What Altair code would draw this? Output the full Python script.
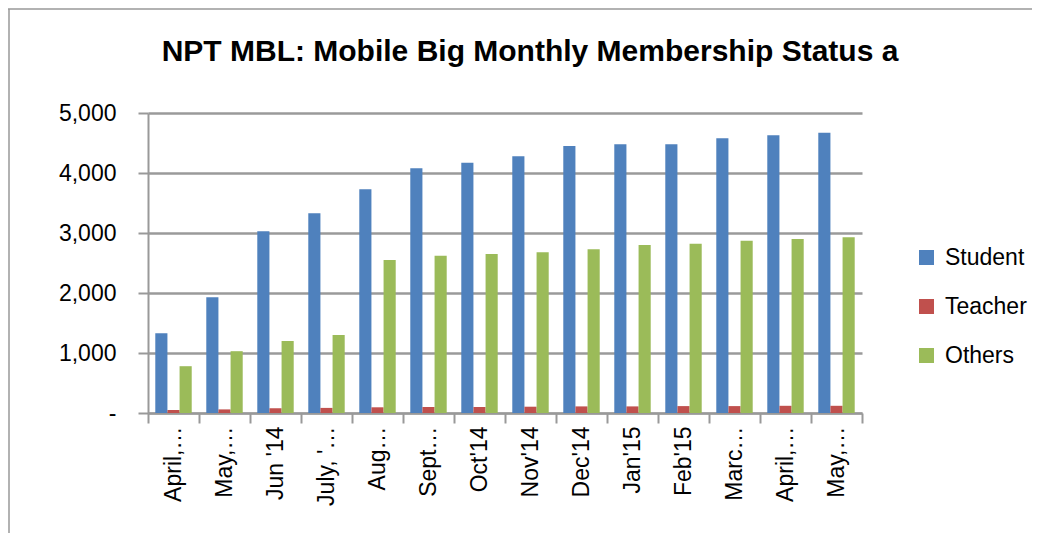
import json
import altair as alt
import pandas as pd

categories = ["April, '14", "May, '14", "Jun '14", "July, '14", "Aug, '14", "Sept, '14",
              "Oct'14", "Nov'14", "Dec'14", "Jan'15", "Feb'15", "March'15", "April, '15", "May, '15"]
display_labels = ["April,…", "May,…", "Jun '14", "July, '…", "Aug…", "Sept…",
                  "Oct'14", "Nov'14", "Dec'14", "Jan'15", "Feb'15", "Marc…", "April,…", "May,…"]
series = ["Student", "Teacher", "Others"]
student = [1330, 1930, 3030, 3330, 3730, 4080, 4170, 4280, 4450, 4480, 4480, 4580, 4630, 4670]
teacher = [50, 60, 80, 85, 95, 100, 100, 105, 110, 110, 115, 115, 120, 120]
others = [780, 1030, 1200, 1300, 2550, 2620, 2650, 2680, 2730, 2800, 2820, 2870, 2900, 2930]
colors = ["#4F81BD", "#C0504D", "#9BBB59"]
y_ticks = [0, 1000, 2000, 3000, 4000, 5000]

rows = []
for i, c in enumerate(categories):
    for s, vals in zip(series, [student, teacher, others]):
        rows.append({"Month": c, "Series": s, "Value": vals[i]})
df = pd.DataFrame(rows)

FONT = "Liberation Sans"
label_expr = f"{json.dumps(display_labels, ensure_ascii=False)}[indexof({json.dumps(categories, ensure_ascii=False)}, datum.value)]"

bars = alt.Chart(df).mark_bar().encode(
    x=alt.X("Month:N", sort=categories, title=None,
            scale=alt.Scale(paddingInner=0, paddingOuter=0),
            axis=alt.Axis(labelAngle=-90, labelExpr=label_expr, labelFont=FONT, labelFontSize=23,
                          labelColor="#000000", labelPadding=3, tickBand="extent", tickSize=10,
                          tickColor="#999999", tickWidth=2, domainColor="#999999", domainWidth=2,
                          grid=False, labelLimit=200)),
    xOffset=alt.XOffset("Series:N", sort=series,
                        scale=alt.Scale(paddingInner=0, paddingOuter=0.6)),
    y=alt.Y("Value:Q", title=None,
            scale=alt.Scale(domain=[0, 5000], nice=False),
            axis=alt.Axis(values=y_ticks,
                          labelExpr="datum.value == 0 ? '-' : format(datum.value, ',')",
                          labelFont=FONT, labelFontSize=23, labelColor="#000000", labelPadding=22,
                          tickSize=10, tickColor="#999999", tickWidth=2, domainColor="#999999",
                          domainWidth=2, gridColor="#9a9a9a", gridWidth=2.5)),
    color=alt.Color("Series:N", sort=series,
                    scale=alt.Scale(domain=series, range=colors),
                    legend=alt.Legend(title=None, orient="none", legendX=767, legendY=133,
                                      symbolType="square", symbolSize=225, symbolStrokeWidth=0,
                                      labelFont=FONT, labelFontSize=23, labelColor="#000000",
                                      rowPadding=25, labelOffset=7)),
)

border_df = pd.DataFrame({"a": [0]})
left_border = alt.Chart(border_df).mark_rule(color="#999999", strokeWidth=1.5).encode(
    x=alt.value(-139), y=alt.value(-104), y2=alt.value(430))
top_border = alt.Chart(border_df).mark_rule(color="#999999", strokeWidth=1.5).encode(
    x=alt.value(-140), x2=alt.value(900), y=alt.value(-104))

chart = alt.layer(bars, left_border, top_border).properties(
    width=714, height=300,
    title=alt.Title("NPT MBL: Mobile Big Monthly Membership Status a", font=FONT, fontSize=30,
                    fontWeight="bold", color="#000000", anchor="middle", offset=-59, dx=25,
                    frame="group"),
    autosize=alt.AutoSizeParams(type="none"),
    padding={"left": 140, "top": 105, "right": 170, "bottom": 120},
).configure_view(stroke=None)

chart.save("out.html", embed_options={"renderer": "svg", "actions": False})
